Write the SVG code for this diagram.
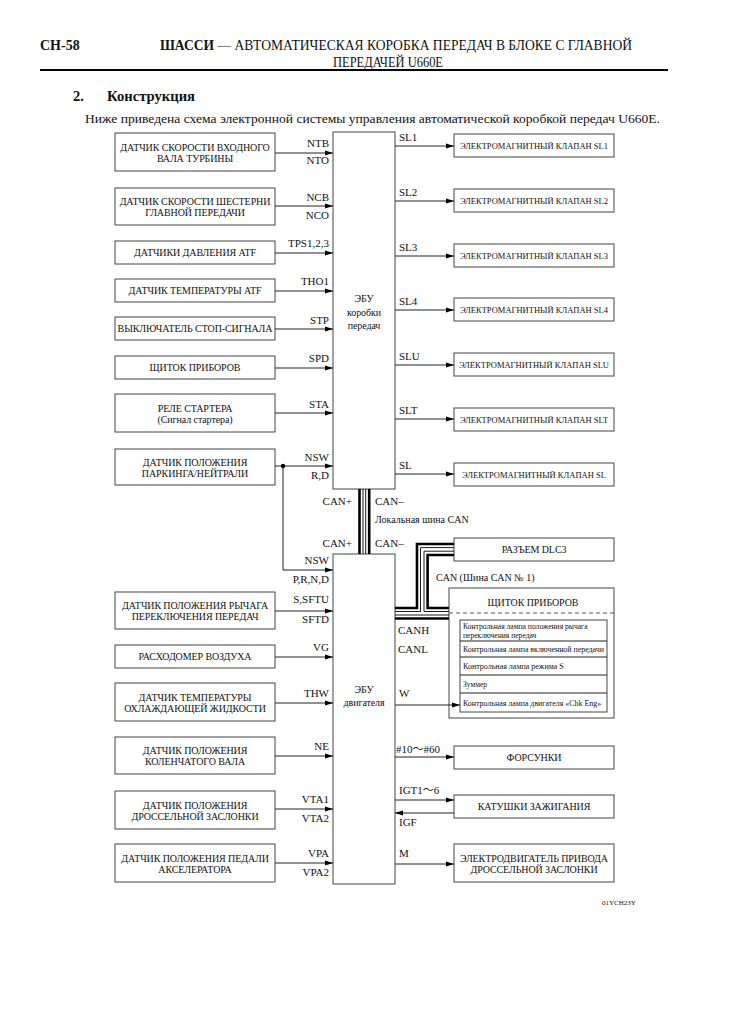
<svg xmlns="http://www.w3.org/2000/svg" width="731" height="1035" viewBox="0 0 731 1035">
<style>
text{font-family:"Liberation Serif","Times New Roman",serif;fill:#111}
.cjk{font-family:"Liberation Serif","Noto Sans CJK JP",serif}
.hd{font-size:14px}
.b{font-weight:bold}
.bx{font-size:10px;letter-spacing:-0.1px;text-anchor:middle}
.pin{font-size:11px;text-anchor:end}
.pr{font-size:11px}
.sm{font-size:8.5px;text-anchor:middle}
.tn{font-size:7.9px}
.box{fill:#fff;stroke:#444;stroke-width:1}
.ln{stroke:#222;stroke-width:1;fill:none}
.tk{stroke:#000;stroke-width:2.6;fill:none}
.th{stroke:#000;stroke-width:0.9;fill:none}
</style>
<defs>
<marker id="ar" markerWidth="8" markerHeight="6" refX="8" refY="3" orient="auto" markerUnits="userSpaceOnUse">
<path d="M0,0.5 L8,3 L0,5.5 Z" fill="#000"/>
</marker>
</defs>
<rect width="731" height="1035" fill="#fff"/>

<g id="header">
<text class="hd b" x="40" y="50">CH-58</text>
<text class="hd" x="160" y="50" textLength="472" lengthAdjust="spacingAndGlyphs"><tspan class="b">ШАССИ</tspan> — АВТОМАТИЧЕСКАЯ КОРОБКА ПЕРЕДАЧ В БЛОКЕ С ГЛАВНОЙ</text>
<text class="hd" x="333" y="67" textLength="110" lengthAdjust="spacingAndGlyphs">ПЕРЕДАЧЕЙ U660E</text>
<line x1="40" y1="70" x2="668" y2="70" stroke="#000" stroke-width="2"/>
<text class="b" x="73" y="101" style="font-size:14.5px">2.</text>
<text class="b" x="107" y="101" style="font-size:14.5px" textLength="88" lengthAdjust="spacingAndGlyphs">Конструкция</text>
<text x="85" y="123" style="font-size:13px" textLength="575" lengthAdjust="spacingAndGlyphs">Ниже приведена схема электронной системы управления автоматической коробкой передач U660E.</text>
</g>

<g id="ecu-tm">
<rect class="box" x="333" y="132" width="62" height="357"/>
<text class="bx" x="364" y="302">ЭБУ</text>
<text class="bx" x="364" y="316">коробки</text>
<text class="bx" x="364" y="329">передач</text>
</g>
<g id="ecu-eng">
<rect class="box" x="333" y="554" width="62" height="330"/>
<text class="bx" x="364" y="693">ЭБУ</text>
<text class="bx" x="364" y="706">двигателя</text>
</g>

<g id="n-ntb"><rect class="box" x="115" y="133" width="160" height="38"/>
<text class="bx" x="195" y="150.5">ДАТЧИК СКОРОСТИ ВХОДНОГО</text><text class="bx" x="195" y="161.5">ВАЛА ТУРБИНЫ</text></g>
<g id="n-ncb"><rect class="box" x="115" y="188" width="160" height="37"/>
<text class="bx" x="195" y="205">ДАТЧИК СКОРОСТИ ШЕСТЕРНИ</text><text class="bx" x="195" y="216">ГЛАВНОЙ ПЕРЕДАЧИ</text></g>
<g id="n-tps"><rect class="box" x="115" y="241" width="160" height="23"/>
<text class="bx" x="195" y="256">ДАТЧИКИ ДАВЛЕНИЯ ATF</text></g>
<g id="n-tho"><rect class="box" x="115" y="279" width="160" height="23"/>
<text class="bx" x="195" y="294">ДАТЧИК ТЕМПЕРАТУРЫ ATF</text></g>
<g id="n-stp"><rect class="box" x="115" y="317" width="160" height="23"/>
<text class="bx" x="195" y="332">ВЫКЛЮЧАТЕЛЬ СТОП-СИГНАЛА</text></g>
<g id="n-spd"><rect class="box" x="115" y="356" width="160" height="23"/>
<text class="bx" x="195" y="371">ЩИТОК ПРИБОРОВ</text></g>
<g id="n-sta"><rect class="box" x="115" y="394" width="160" height="38"/>
<text class="bx" x="195" y="411.5">РЕЛЕ СТАРТЕРА</text><text class="bx" x="195" y="422.5">(Сигнал стартера)</text></g>
<g id="n-nsw"><rect class="box" x="115" y="449" width="160" height="36"/>
<text class="bx" x="195" y="465.5">ДАТЧИК ПОЛОЖЕНИЯ</text><text class="bx" x="195" y="476.5">ПАРКИНГА/НЕЙТРАЛИ</text></g>
<g id="n-sft"><rect class="box" x="115" y="592" width="160" height="37"/>
<text class="bx" x="195" y="609">ДАТЧИК ПОЛОЖЕНИЯ РЫЧАГА</text><text class="bx" x="195" y="620">ПЕРЕКЛЮЧЕНИЯ ПЕРЕДАЧ</text></g>
<g id="n-vg"><rect class="box" x="115" y="645" width="160" height="23"/>
<text class="bx" x="195" y="660">РАСХОДОМЕР ВОЗДУХА</text></g>
<g id="n-thw"><rect class="box" x="115" y="683" width="160" height="38"/>
<text class="bx" x="195" y="700.5">ДАТЧИК ТЕМПЕРАТУРЫ</text><text class="bx" x="195" y="711.5">ОХЛАЖДАЮЩЕЙ ЖИДКОСТИ</text></g>
<g id="n-ne"><rect class="box" x="115" y="737" width="160" height="37"/>
<text class="bx" x="195" y="754">ДАТЧИК ПОЛОЖЕНИЯ</text><text class="bx" x="195" y="765">КОЛЕНЧАТОГО ВАЛА</text></g>
<g id="n-vta"><rect class="box" x="115" y="791" width="160" height="38"/>
<text class="bx" x="195" y="808.5">ДАТЧИК ПОЛОЖЕНИЯ</text><text class="bx" x="195" y="819.5">ДРОССЕЛЬНОЙ ЗАСЛОНКИ</text></g>
<g id="n-vpa"><rect class="box" x="115" y="844" width="160" height="38"/>
<text class="bx" x="195" y="861.5">ДАТЧИК ПОЛОЖЕНИЯ ПЕДАЛИ</text><text class="bx" x="195" y="872.5">АКСЕЛЕРАТОРА</text></g>

<g id="n-sl1"><rect class="box" x="454" y="134" width="160" height="23"/><text class="sm" x="534" y="148.5">ЭЛЕКТРОМАГНИТНЫЙ КЛАПАН SL1</text></g>
<g id="n-sl2"><rect class="box" x="454" y="189" width="160" height="23"/><text class="sm" x="534" y="203.5">ЭЛЕКТРОМАГНИТНЫЙ КЛАПАН SL2</text></g>
<g id="n-sl3"><rect class="box" x="454" y="244" width="160" height="23"/><text class="sm" x="534" y="258.5">ЭЛЕКТРОМАГНИТНЫЙ КЛАПАН SL3</text></g>
<g id="n-sl4"><rect class="box" x="454" y="298" width="160" height="23"/><text class="sm" x="534" y="312.5">ЭЛЕКТРОМАГНИТНЫЙ КЛАПАН SL4</text></g>
<g id="n-slu"><rect class="box" x="454" y="353" width="160" height="23"/><text class="sm" x="534" y="367.5">ЭЛЕКТРОМАГНИТНЫЙ КЛАПАН SLU</text></g>
<g id="n-slt"><rect class="box" x="454" y="408" width="160" height="23"/><text class="sm" x="534" y="422.5">ЭЛЕКТРОМАГНИТНЫЙ КЛАПАН SLT</text></g>
<g id="n-sl"><rect class="box" x="454" y="463" width="160" height="23"/><text class="sm" x="534" y="477.5">ЭЛЕКТРОМАГНИТНЫЙ КЛАПАН SL</text></g>
<g id="n-dlc3"><rect class="box" x="454" y="538" width="160" height="23"/><text class="bx" x="534" y="553">РАЗЪЕМ DLC3</text></g>

<g id="n-cluster">
<rect class="box" x="449" y="588" width="165" height="130"/>
<text class="bx" x="533" y="606">ЩИТОК ПРИБОРОВ</text>
<line x1="449" y1="613" x2="614" y2="613" stroke="#555" stroke-width="1" stroke-dasharray="4,3"/>
<rect class="box" x="460" y="620" width="147" height="92"/>
<line class="ln" x1="460" y1="641" x2="607" y2="641" stroke="#444"/>
<line class="ln" x1="460" y1="657" x2="607" y2="657" stroke="#444"/>
<line class="ln" x1="460" y1="675" x2="607" y2="675" stroke="#444"/>
<line class="ln" x1="460" y1="693" x2="607" y2="693" stroke="#444"/>
<text x="463" y="628.5" style="font-size:7.6px">Контрольная лампа положения рычага</text>
<text x="463" y="637.5" style="font-size:7.6px">переключения передач</text>
<text class="tn" x="463" y="651.5">Контрольная лампа включенной передачи</text>
<text x="463" y="669" style="font-size:8px">Контрольная лампа режима S</text>
<text x="463" y="687" style="font-size:7.5px">Зуммер</text>
<text class="tn" x="463" y="705.5">Контрольная лампа двигателя «Chk Eng»</text>
</g>

<g id="n-inj"><rect class="box" x="454" y="746" width="160" height="23"/><text class="bx" x="534" y="761">ФОРСУНКИ</text></g>
<g id="n-ign"><rect class="box" x="454" y="795" width="160" height="23"/><text class="bx" x="534" y="810">КАТУШКИ ЗАЖИГАНИЯ</text></g>
<g id="n-mot"><rect class="box" x="454" y="844" width="160" height="38"/>
<text class="bx" x="534" y="861.5">ЭЛЕКТРОДВИГАТЕЛЬ ПРИВОДА</text><text class="bx" x="534" y="872.5">ДРОССЕЛЬНОЙ ЗАСЛОНКИ</text></g>

<g id="connectors">
<g class="ln" marker-end="url(#ar)">
<line x1="275" y1="153" x2="333" y2="153"/>
<line x1="275" y1="206" x2="333" y2="206"/>
<line x1="275" y1="253" x2="333" y2="253"/>
<line x1="275" y1="291" x2="333" y2="291"/>
<line x1="275" y1="329" x2="333" y2="329"/>
<line x1="275" y1="368" x2="333" y2="368"/>
<line x1="275" y1="413" x2="333" y2="413"/>
<line x1="275" y1="466" x2="333" y2="466"/>
<polyline points="283,466 283,570 333,570"/>
<line x1="275" y1="611" x2="333" y2="611"/>
<line x1="275" y1="657" x2="333" y2="657"/>
<line x1="275" y1="703" x2="333" y2="703"/>
<line x1="275" y1="756" x2="333" y2="756"/>
<line x1="275" y1="809" x2="333" y2="809"/>
<line x1="275" y1="863" x2="333" y2="863"/>
<line x1="395" y1="146" x2="454" y2="146"/>
<line x1="395" y1="201" x2="454" y2="201"/>
<line x1="395" y1="256" x2="454" y2="256"/>
<line x1="395" y1="310" x2="454" y2="310"/>
<line x1="395" y1="365" x2="454" y2="365"/>
<line x1="395" y1="419" x2="454" y2="419"/>
<line x1="395" y1="474" x2="454" y2="474"/>
<line x1="395" y1="705" x2="460" y2="705"/>
<line x1="395" y1="757" x2="454" y2="757"/>
<line x1="395" y1="800" x2="454" y2="800"/>
<line x1="454" y1="813" x2="395" y2="813"/>
<line x1="395" y1="864" x2="454" y2="864"/>
</g>
<circle cx="283" cy="466" r="2.2" fill="#000"/>
<line class="tk" x1="359.5" y1="489" x2="359.5" y2="554"/>
<line class="th" x1="363" y1="489" x2="363" y2="554"/>
<line class="th" x1="365.7" y1="489" x2="365.7" y2="554"/>
<line class="tk" x1="369.2" y1="489" x2="369.2" y2="554"/>
<polyline class="tk" points="395,608 417,608 417,544 454,544"/>
<polyline class="th" points="395,611.5 420.5,611.5 420.5,547.6 454,547.6"/>
<polyline class="th" points="454,551.2 424,551.2 424,611.5 449,611.5"/>
<polyline class="tk" points="454,555 427.6,555 427.6,608 449,608"/>
<line class="th" x1="395" y1="615" x2="449" y2="615"/>
<line class="tk" x1="395" y1="618.5" x2="449" y2="618.5"/>
</g>

<g id="labels">
<text class="pin" x="329" y="147">NTB</text><text class="pin" x="329" y="164">NTO</text>
<text class="pin" x="329" y="201">NCB</text><text class="pin" x="329" y="219">NCO</text>
<text class="pin" x="329" y="247">TPS1,2,3</text>
<text class="pin" x="329" y="285">THO1</text>
<text class="pin" x="329" y="324">STP</text>
<text class="pin" x="329" y="362">SPD</text>
<text class="pin" x="329" y="408">STA</text>
<text class="pin" x="329" y="461">NSW</text><text class="pin" x="329" y="479">R,D</text>
<text class="pin" x="352" y="505">CAN+</text><text class="pr" x="375" y="505">CAN–</text>
<text x="375" y="523" style="font-size:10px">Локальная шина CAN</text>
<text class="pin" x="352" y="547">CAN+</text><text class="pr" x="375" y="547">CAN–</text>
<text class="pin" x="329" y="564">NSW</text><text class="pin" x="329" y="583">P,R,N,D</text>
<text class="pin" x="329" y="603">S,SFTU</text><text class="pin" x="329" y="623">SFTD</text>
<text class="pin" x="329" y="651">VG</text>
<text class="pin" x="329" y="697">THW</text>
<text class="pin" x="329" y="750">NE</text>
<text class="pin" x="329" y="803">VTA1</text><text class="pin" x="329" y="822">VTA2</text>
<text class="pin" x="329" y="857">VPA</text><text class="pin" x="329" y="876">VPA2</text>
<text class="pr" x="399" y="141">SL1</text>
<text class="pr" x="399" y="196">SL2</text>
<text class="pr" x="399" y="251">SL3</text>
<text class="pr" x="399" y="305">SL4</text>
<text class="pr" x="399" y="360">SLU</text>
<text class="pr" x="399" y="414">SLT</text>
<text class="pr" x="399" y="469">SL</text>
<text x="436" y="581" style="font-size:10px">CAN (Шина CAN № 1)</text>
<text class="pr" x="398" y="634">CANH</text>
<text class="pr" x="398" y="653">CANL</text>
<text class="pr" x="399" y="697">W</text>
<text class="pr cjk" x="396" y="753">#10～#60</text>
<text class="pr cjk" x="399" y="794">IGT1～6</text>
<text class="pr" x="399" y="826">IGF</text>
<text class="pr" x="399" y="857">M</text>
<text x="602" y="905" style="font-size:7px">01YCH23Y</text>
</g>
</svg>
